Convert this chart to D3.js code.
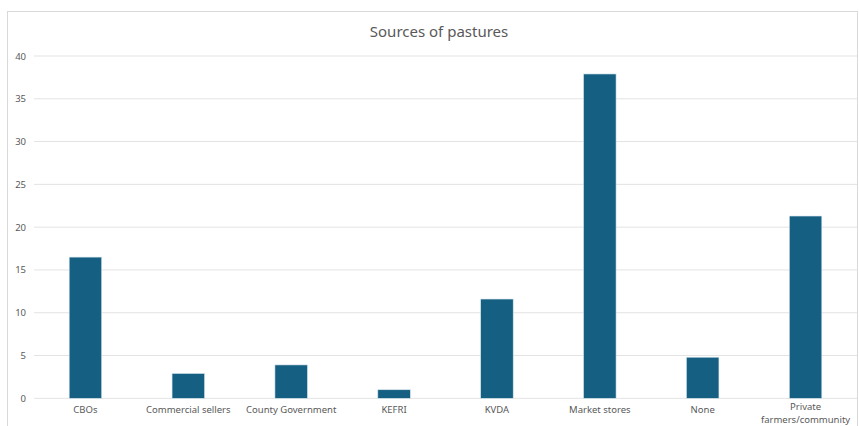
<!DOCTYPE html>
<html>
<head>
<meta charset="utf-8">
<script src="https://cdn.jsdelivr.net/npm/d3@7"></script>
<style>
  body { margin: 0; background: #fff; }
  text { font-family: "Noto Sans", sans-serif; fill: #595959; }
</style>
</head>
<body>
<div id="chart"></div>
<script>
// Data
var categories = ["CBOs", "Commercial sellers", "County Government", "KEFRI", "KVDA",
    "Market stores", "None", "Private farmers/community"];
var values = [16.5, 2.9, 3.9, 1.0, 11.6, 37.9, 4.8, 21.3];
var yTicks = [0, 5, 10, 15, 20, 25, 30, 35, 40];
var chartTitle = "Sources of pastures";

var svgWidth = 859;
var svgHeight = 426;

var margin = { top: 56, right: 2, bottom: 28, left: 34 };
var chartWidth = svgWidth - margin.left - margin.right;
var chartHeight = 398.3 - margin.top;

var svg = d3.select("#chart")
    .append("svg")
    .attr("width", svgWidth)
    .attr("height", svgHeight);

// chart border
svg.append("rect")
    .attr("x", 7.5)
    .attr("y", 11.5)
    .attr("width", 850)
    .attr("height", 430)
    .attr("fill", "none")
    .attr("stroke", "#d9d9d9");

svg.append("text")
    .attr("x", 439)
    .attr("y", 37)
    .attr("text-anchor", "middle")
    .style("font-size", "15px")
    .text(chartTitle);

var chartGroup = svg.append("g")
    .attr("transform", `translate(${margin.left}, ${margin.top})`);

var xScale = d3.scaleBand()
    .domain(categories)
    .range([0, chartWidth])
    .paddingInner(0.684)
    .paddingOuter(0.342);

var yScale = d3.scaleLinear()
    .domain([0, 40])
    .range([chartHeight, 0]);

// gridlines
chartGroup.append("g")
    .selectAll("line")
    .data(yTicks)
    .enter()
    .append("line")
    .attr("x1", 0)
    .attr("x2", chartWidth)
    .attr("y1", d => yScale(d))
    .attr("y2", d => yScale(d))
    .attr("stroke", "#e3e3e3")
    .attr("stroke-width", 1);

// y axis labels
var leftAxis = d3.axisLeft(yScale).tickValues(yTicks).tickSize(0).tickPadding(8);
var yAxis = chartGroup.append("g").call(leftAxis);
yAxis.select(".domain").remove();
yAxis.selectAll("text").style("font-size", "9.5px").attr("fill", "#595959");

// bars
chartGroup.append("g").selectAll("rect")
    .data(values)
    .enter()
    .append("rect")
    .attr("x", (d, i) => xScale(categories[i]))
    .attr("y", d => yScale(d))
    .attr("width", xScale.bandwidth())
    .attr("height", d => chartHeight - yScale(d))
    .attr("fill", "#156082")
    .attr("stroke", "#d6e4ec")
    .attr("stroke-width", 0.6);

// x axis labels
var bottomAxis = d3.axisBottom(xScale).tickSize(0).tickPadding(8);
var xAxis = chartGroup.append("g")
    .attr("transform", `translate(0, ${chartHeight})`)
    .call(bottomAxis);
xAxis.select(".domain").remove();
xAxis.selectAll("text")
    .style("font-size", "9.5px")
    .attr("fill", "#595959")
    .each(function (d) {
        var el = d3.select(this);
        // long labels wrap onto two lines
        if (xScale.bandwidth() * 3 < d.length * 5.2) {
            var parts = d.split(" ");
            el.text(null);
            parts.forEach(function (p, i) {
                el.append("tspan")
                    .attr("x", 0)
                    .attr("dy", i === 0 ? "0.38em" : "1.37em")
                    .text(p);
            });
            el.attr("dy", null);
        }
    });
</script>
</body>
</html>
